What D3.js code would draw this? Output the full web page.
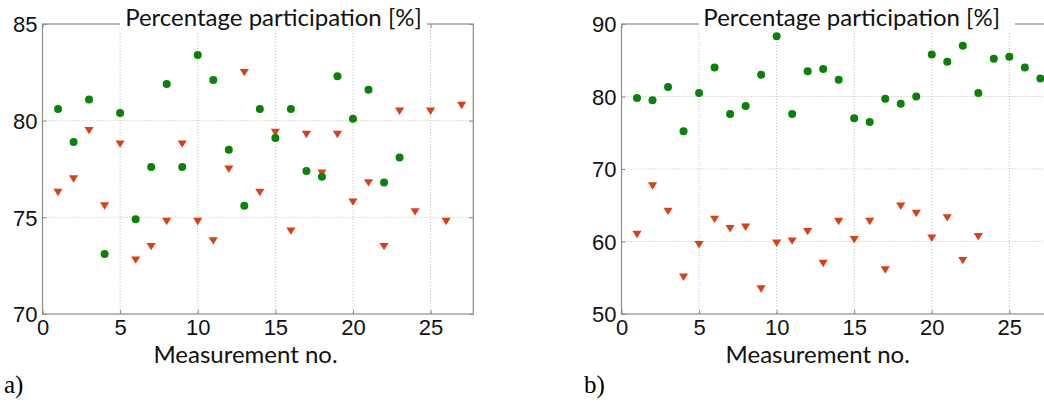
<!DOCTYPE html>
<html>
<head>
<meta charset="utf-8">
<script src="https://cdn.jsdelivr.net/npm/d3@7"></script>
<style>
  body { margin: 0; background: #fff; }
  svg { display: block; }
  .tick text { font-family: "Liberation Sans", Arial, sans-serif; font-size: 22px; fill: #111; }
  .tick line { stroke: #8a8a8a; }
  .grid line { stroke: #bdbdbd; stroke-dasharray: 1,2; }
  .title, .xlabel { font-family: Lato, "Open Sans", sans-serif; fill: #111; }
  .panel { font-family: "Liberation Serif", "Times New Roman", serif; font-size: 25px; fill: #000; }
</style>
</head>
<body>
<svg id="chart" width="1044" height="403"></svg>
<script>
// measurement numbers
var measNo = [1, 2, 3, 4, 5, 6, 7, 8, 9, 10, 11, 12, 13, 14, 15, 16, 17, 18, 19, 20, 21, 22, 23, 24, 25, 26, 27];

// panel a) values [%]
var greenA = [80.6, 78.9, 81.1, 73.1, 80.4, 74.9, 77.6, 81.9, 77.6, 83.4, 82.1, 78.5, 75.6, 80.6, 79.1, 80.6, 77.4, 77.1, 82.3, 80.1, 81.6, 76.8, 78.1];
var redA = [76.3, 77.0, 79.5, 75.6, 78.8, 72.8, 73.5, 74.8, 78.8, 74.8, 73.8, 77.5, 82.5, 76.3, 79.4, 74.3, 79.3, 77.3, 79.3, 75.8, 76.8, 73.5, 80.5, 75.3, 80.5, 74.8, 80.8];

// panel b) values [%]
var greenB = [79.8, 79.5, 81.3, 75.2, 80.5, 84.0, 77.6, 78.7, 83.0, 88.3, 77.6, 83.5, 83.8, 82.3, 77.0, 76.5, 79.7, 79.0, 80.0, 85.8, 84.8, 87.0, 80.5, 85.2, 85.5, 84.0, 82.5];
var redB = [61.0, 67.7, 64.2, 55.1, 59.6, 63.1, 61.8, 62.0, 53.5, 59.8, 60.1, 61.4, 57.0, 62.8, 60.3, 62.8, 56.1, 64.9, 63.9, 60.5, 63.3, 57.4, 60.7];

var xTickValues = [0, 5, 10, 15, 20, 25];
var yTicksA = [70, 75, 80, 85];
var yTicksB = [50, 60, 70, 80, 90];
var titleText = 'Percentage participation [%]';
var xLabelText = 'Measurement no.';

var svg = d3.select('#chart');
svg.append('rect').attr('width', 1044).attr('height', 403).attr('fill', '#fff');

var greenColor = '#0b800b';
var redColor = '#d8401a';

var drawPanel = function(p) {
  var g = svg.append('g');
  var x = d3.scaleLinear().domain([0, 27.75]).range([p.left, p.right]);
  var y = d3.scaleLinear().domain(p.yDomain).range([314, 24]);
  var top = 24, bottom = 314;

  // grid
  var grid = g.append('g').attr('class', 'grid');
  grid.selectAll('.gx').data(xTickValues.slice(1)).enter().append('line')
    .attr('x1', function(d) { return x(d); }).attr('x2', function(d) { return x(d); })
    .attr('y1', top).attr('y2', bottom);
  grid.selectAll('.gy').data(p.yTicks.slice(1, -1)).enter().append('line')
    .attr('x1', p.left).attr('x2', p.right)
    .attr('y1', function(d) { return y(d); }).attr('y2', function(d) { return y(d); });

  // axes, ticks inside like matlab
  var ax = g.append('g').attr('transform', 'translate(0,' + bottom + ')')
    .call(d3.axisBottom(x).tickValues(xTickValues).tickSizeInner(-4).tickSizeOuter(0).tickPadding(5));
  var ay = g.append('g').attr('transform', 'translate(' + p.left + ',0)')
    .call(d3.axisLeft(y).tickValues(p.yTicks).tickSizeInner(-4).tickSizeOuter(0).tickPadding(5));
  var at = g.append('g').attr('transform', 'translate(0,' + top + ')')
    .call(d3.axisTop(x).tickValues(xTickValues).tickFormat('').tickSizeInner(-4).tickSizeOuter(0));
  var ar = g.append('g').attr('transform', 'translate(' + p.right + ',0)')
    .call(d3.axisRight(y).tickValues(p.yTicks).tickFormat('').tickSizeInner(-4).tickSizeOuter(0));
  [ax, ay, at, ar].forEach(function(a) { a.select('.domain').remove(); });
  ay.selectAll('.tick text').attr('dy', '0.36em');

  g.append('rect')
    .attr('x', p.left).attr('y', top)
    .attr('width', p.right - p.left).attr('height', bottom - top)
    .attr('fill', 'none').attr('stroke', '#8a8a8a').attr('stroke-width', 1.2);

  // markers
  g.selectAll('.red').data(p.red).enter().append('path')
    .attr('d', 'M-4.6,-3.4L4.6,-3.4L0,4Z')
    .attr('fill', redColor)
    .attr('transform', function(d, i) { return 'translate(' + x(measNo[i]) + ',' + y(d) + ')'; });
  g.selectAll('.green').data(p.green).enter().append('circle')
    .attr('cx', function(d, i) { return x(measNo[i]); })
    .attr('cy', function(d) { return y(d); })
    .attr('r', 4)
    .attr('fill', greenColor);

  // title sits on the top border
  g.append('rect')
    .attr('x', p.titleBox[0]).attr('y', 0)
    .attr('width', p.titleBox[1] - p.titleBox[0]).attr('height', 31)
    .attr('fill', '#fff');
  g.append('text').attr('class', 'title')
    .attr('x', p.titleX).attr('y', 26)
    .attr('text-anchor', 'middle').style('font-size', '24px')
    .text(titleText);

  g.append('text').attr('class', 'xlabel')
    .attr('x', p.xLabelX).attr('y', 363)
    .attr('text-anchor', 'middle').style('font-size', '24px')
    .text(xLabelText);

  g.append('text').attr('class', 'panel')
    .attr('x', p.panelX).attr('y', 393)
    .text(p.panelLabel);
};

drawPanel({
  left: 42.5, right: 473.3, yDomain: [70, 85], yTicks: yTicksA,
  green: greenA, red: redA,
  titleBox: [120, 427], titleX: 273.5, xLabelX: 245.5,
  panelX: 4, panelLabel: 'a)'
});

drawPanel({
  left: 621.5, right: 1052, yDomain: [50, 90], yTicks: yTicksB,
  green: greenB, red: redB,
  titleBox: [699, 1015], titleX: 851.7, xLabelX: 817.7,
  panelX: 584, panelLabel: 'b)'
});
</script>
</body>
</html>
